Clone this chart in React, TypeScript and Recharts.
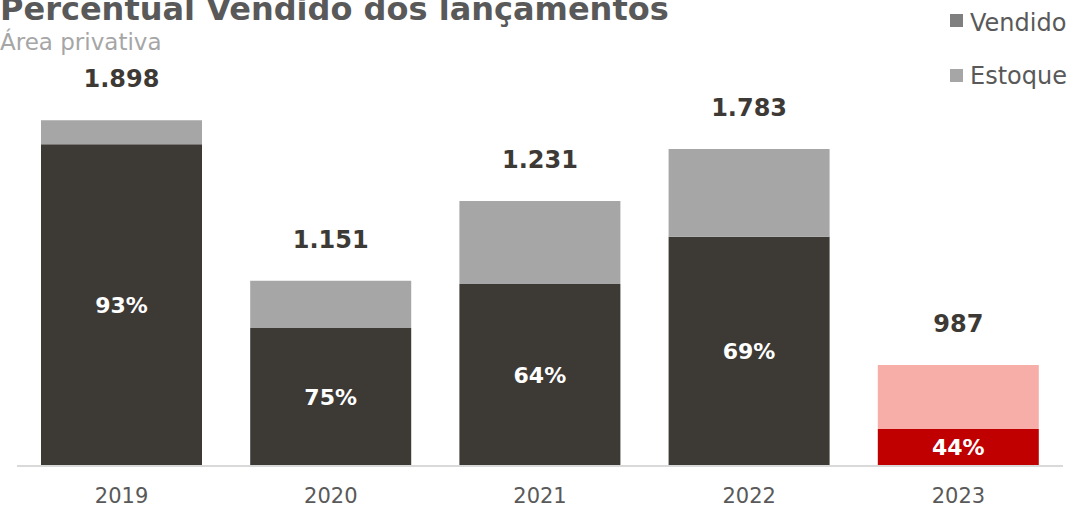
import React from "react";
import { BarChart, Bar, XAxis, YAxis, Cell, LabelList } from "recharts";

const years = ["2019", "2020", "2021", "2022", "2023"];
const vendido = [1764, 757, 998, 1257, 203];
const estoque = [132, 258, 455, 481, 351];
const totalLabels = ["1.898", "1.151", "1.231", "1.783", "987"];
const pctLabels = ["93%", "75%", "64%", "69%", "44%"];

const dark = "#3d3935";
const gray = "#a6a6a6";
const red = "#c00000";
const pink = "#f8aea8";
const font = "'DejaVu Sans', sans-serif";

const data = years.map((y, i) => ({
    year: y,
    vendido: vendido[i],
    estoque: estoque[i],
    total: totalLabels[i],
    pct: pctLabels[i],
}));

const TotalLabel = (props: any) => {
    const { x, y, width, value } = props;
    return (
        <text
            x={x + width / 2}
            y={y - 33}
            textAnchor="middle"
            fill={dark}
            fontSize={24}
            fontWeight="bold"
            fontFamily={font}
        >
            {value}
        </text>
    );
};

const legendText = { position: "absolute" as const, left: 970, fontFamily: font, fontSize: 24, lineHeight: "24px", color: "#595959", whiteSpace: "nowrap" as const };

const App = () => {
    const last = years.length - 1;
    return (
        <div style={{ position: "absolute", left: 0, top: 0, width: 1073, height: 509, overflow: "hidden", background: "#fff" }}>
            <div style={{ position: "absolute", left: 0, top: -7, fontFamily: font, fontWeight: "bold", fontSize: 32, lineHeight: "32px", color: "#595959", whiteSpace: "nowrap" }}>
                Percentual Vendido dos lançamentos
            </div>
            <div style={{ position: "absolute", left: 0, top: 31, fontFamily: font, fontSize: 23, lineHeight: "23px", color: gray, whiteSpace: "nowrap" }}>
                Área privativa
            </div>
            {/* legenda */}
            <div style={{ position: "absolute", left: 950, top: 14, width: 13, height: 13, background: "#7f7f7f" }} />
            <div style={{ ...legendText, top: 11 }}>Vendido</div>
            <div style={{ position: "absolute", left: 950, top: 69, width: 13, height: 13, background: gray }} />
            <div style={{ ...legendText, top: 64 }}>Estoque</div>
            <BarChart
                width={1073}
                height={509}
                data={data}
                margin={{ top: 10, right: 10, left: 17, bottom: 0 }}
                barCategoryGap={24}
                style={{ position: "absolute", left: 0, top: 0 }}
            >
                <XAxis
                    dataKey="year"
                    height={43}
                    tickLine={false}
                    tickMargin={16}
                    axisLine={{ stroke: "#d9d9d9", strokeWidth: 2 }}
                    tick={{ fill: "#595959", fontSize: 21, fontFamily: font }}
                />
                <YAxis hide domain={[0, 2500]} />
                <Bar dataKey="vendido" stackId="a" isAnimationActive={false}>
                    {data.map((d, i) => (
                        <Cell key={d.year} fill={i === last ? red : dark} />
                    ))}
                    <LabelList dataKey="pct" position="center" fill="#ffffff" fontSize={22} fontWeight="bold" fontFamily={font} />
                </Bar>
                <Bar dataKey="estoque" stackId="a" isAnimationActive={false}>
                    {data.map((d, i) => (
                        <Cell key={d.year} fill={i === last ? pink : gray} />
                    ))}
                    <LabelList dataKey="total" content={<TotalLabel />} />
                </Bar>
            </BarChart>
        </div>
    );
};

export default App;
